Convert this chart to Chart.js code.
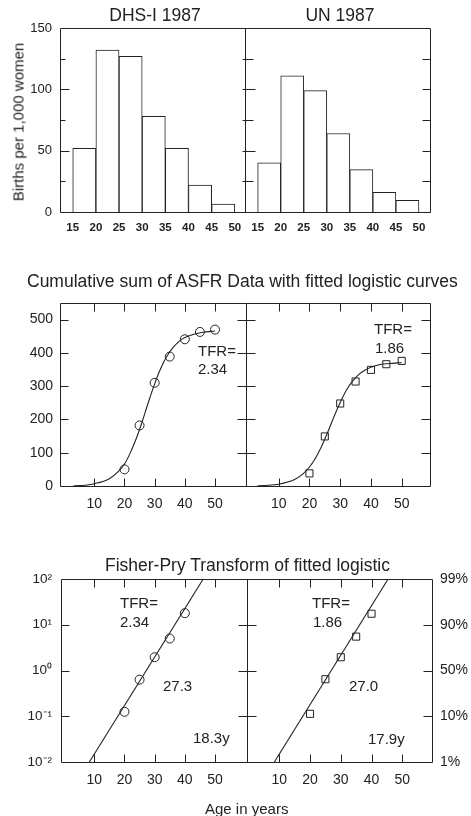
<!DOCTYPE html>
<html><head><meta charset="utf-8">
<script src="https://cdn.jsdelivr.net/npm/chart.js@4.4.0/dist/chart.umd.min.js"></script>
<style>
html,body{margin:0;padding:0;background:#fff}
body{width:471px;height:816px;position:relative;overflow:hidden;font-family:"Liberation Sans",Arial,sans-serif;color:#222}
canvas{position:absolute;left:0;top:0}
.t{position:absolute;white-space:nowrap;line-height:1;transform:translateY(-50%)}
.c{transform:translate(-50%,-50%)}
</style></head><body>
<canvas id="p1" width="471" height="816"></canvas>
<canvas id="p2" width="471" height="816"></canvas>
<canvas id="p3" width="471" height="816"></canvas>
<canvas id="p4" width="471" height="816"></canvas>
<canvas id="p5" width="471" height="816"></canvas>
<canvas id="p6" width="471" height="816"></canvas>

<div class="t c" style="left:155px;top:16px;font-size:17.5px">DHS-I 1987</div>
<div class="t c" style="left:340px;top:16px;font-size:17.5px">UN 1987</div>
<div class="t c" style="left:18px;top:122px;font-size:15px;transform:translate(-50%,-50%) rotate(-90deg)">Births per 1,000 women</div>

<div class="t" style="left:27px;top:282px;font-size:17.5px">Cumulative sum of ASFR Data with fitted logistic curves</div>
<div class="t" style="left:198px;top:350px;font-size:15px">TFR=</div>
<div class="t" style="left:198px;top:368px;font-size:15px">2.34</div>
<div class="t" style="left:374px;top:328px;font-size:15px">TFR=</div>
<div class="t" style="left:375px;top:347px;font-size:15px">1.86</div>

<div class="t" style="left:105px;top:566px;font-size:17.5px">Fisher-Pry Transform of fitted logistic</div>
<div class="t" style="left:120px;top:602px;font-size:15px">TFR=</div>
<div class="t" style="left:120px;top:621px;font-size:15px">2.34</div>
<div class="t" style="left:163px;top:685px;font-size:15px">27.3</div>
<div class="t" style="left:193px;top:737px;font-size:15px">18.3y</div>
<div class="t" style="left:312px;top:602px;font-size:15px">TFR=</div>
<div class="t" style="left:313px;top:621px;font-size:15px">1.86</div>
<div class="t" style="left:349px;top:685px;font-size:15px">27.0</div>
<div class="t" style="left:368px;top:738px;font-size:15px">17.9y</div>
<div class="t" style="left:205px;top:808px;font-size:15px">Age in years</div>

<script>
// ---------- data ----------
const ageGroupStarts = [15, 20, 25, 30, 35, 40, 45];
const dhsAsfr = [52, 132, 127, 78, 52, 22, 6.5];
const unAsfr  = [40, 111, 99, 64, 34.5, 16, 9.5];
const histXTicks = [15, 20, 25, 30, 35, 40, 45, 50];
const histYTicks = [0, 50, 100, 150];
const histMajorMarks = [50, 100];
const histMinorMarks = [25, 75, 125];

const cumAges = [20, 25, 30, 35, 40, 45, 50];
const dhsCum = [50, 182, 310, 389, 441, 463, 470];
const unCum  = [38, 149, 248, 314, 349, 366, 376];
const dhsCurveAges = [3, 5, 10, 15, 18, 20, 22, 24, 26, 28, 30, 32, 34, 36, 38, 40, 43, 46, 50];
const dhsCurve     = [0, 1, 7, 22, 44, 66, 101, 145, 197, 254, 307, 353, 389, 415, 434, 446, 456, 462, 466];
const unCurveAges  = [3, 5, 10, 15, 18, 20, 22, 24, 26, 28, 30, 32, 34, 36, 38, 40, 43, 46, 50];
const unCurve      = [0, 1.5, 5.5, 18.5, 37, 57, 84, 120, 163, 209, 251, 288, 315, 335, 348, 357, 365, 368, 371];
const cumXTicks = [10, 20, 30, 40, 50];
const cumYTicks = [0, 100, 200, 300, 400, 500];
const cumYMarks = [100, 200, 300, 400, 500];

const fpAges = [20, 25, 30, 35, 40];
const dhsFP = [0.125, 0.63, 1.95, 5.0, 17.9];
const unFP  = [0.113, 0.645, 1.95, 5.5, 17.4];
const dhsFPLineAges = [8.35, 46.1];
const dhsFPLine     = [0.01, 100];
const unFPLineAges  = [8.4, 45.4];
const unFPLine      = [0.01, 100];
const fpYTicks  = [0.01, 0.1, 1, 10, 100];
const fpYLabels = ['10\u207B\u00B2', '10\u207B\u00B9', '10\u2070', '10\u00B9', '10\u00B2'];
const fpPctLabels = ['1%', '10%', '50%', '90%', '99%'];
const fpYMarks = [0.1, 1, 10];

// ---------- helpers ----------
const INK = '#222';
const FONT = '"Liberation Sans", Arial, sans-serif';
Chart.defaults.font.family = FONT;
Chart.defaults.color = INK;

const pts = (xs, ys) => xs.map((x, i) => ({x, y: ys[i]}));
const marks = (vals, len) => vals.map(v => [v, len]);

const framePlugin = {
  id: 'frame',
  afterDatasetsDraw(chart, args, o) {
    const {ctx, chartArea: a, scales} = chart;
    const xs = scales.x, ys = scales.y;
    ctx.save();
    ctx.strokeStyle = INK; ctx.lineWidth = 1;
    const L = Math.round(a.left) + 0.5, R = Math.round(a.right) + 0.5;
    const T = Math.round(a.top) + 0.5, B = Math.round(a.bottom) + 0.5;
    const line = (x1, y1, x2, y2) => { ctx.beginPath(); ctx.moveTo(x1, y1); ctx.lineTo(x2, y2); ctx.stroke(); };
    line(L, T, R, T); line(R, T, R, B); line(R, B, L, B); line(L, B, L, T);
    (o.left || []).forEach(([v, len]) => { const y = Math.round(ys.getPixelForValue(v)) + 0.5; line(L, y, L + len, y); });
    (o.right || []).forEach(([v, len]) => { const y = Math.round(ys.getPixelForValue(v)) + 0.5; line(R, y, R - len, y); });
    (o.top || []).forEach(([v, len]) => { const x = Math.round(xs.getPixelForValue(v)) + 0.5; line(x, T, x, T + len); });
    (o.bottom || []).forEach(([v, len]) => { const x = Math.round(xs.getPixelForValue(v)) + 0.5; line(x, B, x, B - len); });
    ctx.restore();
  }
};

function panel(id, cfg) {
  const {L, T, R, B, wy = 0, hx = 0, wr = 0} = cfg.box;
  return new Chart(document.getElementById(id), {
    type: cfg.type,
    data: {datasets: cfg.datasets},
    options: {
      responsive: false, animation: false, devicePixelRatio: 1, events: [],
      layout: {padding: {left: L - wy, top: T, right: 471 - R - wr, bottom: 816 - B - hx}},
      plugins: {legend: {display: false}, tooltip: {enabled: false}, frame: cfg.frame},
      scales: cfg.scales(wy, hx, wr)
    },
    plugins: [framePlugin]
  });
}

function fixedTicks(vals) {
  return s => { s.ticks = vals.map(v => ({value: v})); };
}

// ---------- top: histograms ----------
function histScales(min, max, showY) {
  return (wy, hx) => ({
    x: {type: 'linear', min, max, offset: false,
        afterBuildTicks: fixedTicks(histXTicks),
        afterFit: s => { s.height = hx; },
        grid: {display: false, drawTicks: false}, border: {display: false},
        ticks: {padding: 9, maxRotation: 0, autoSkip: false, font: {size: 11.5, weight: 'bold'}}},
    y: {type: 'linear', min: 0, max: 150, display: showY,
        afterBuildTicks: fixedTicks(histYTicks),
        afterFit: s => { s.width = wy; },
        grid: {display: false, drawTicks: false}, border: {display: false},
        ticks: {padding: 8, font: {size: 13}}}
  });
}
const barStyle = {backgroundColor: '#fff', borderColor: INK, borderWidth: 1,
                  barPercentage: 1, categoryPercentage: 1, borderSkipped: 'start'};

panel('p1', {
  type: 'bar', box: {L: 60, T: 28, R: 245, B: 212, wy: 40, hx: 30},
  datasets: [Object.assign({data: pts(ageGroupStarts.map(a => a + 2.5), dhsAsfr)}, barStyle)],
  scales: histScales(12.25, 52.2, true),
  frame: {left: marks(histMajorMarks, 9).concat(marks(histMinorMarks, 5)),
          right: marks(histMajorMarks.concat(histMinorMarks), 3)}
});
panel('p2', {
  type: 'bar', box: {L: 245, T: 28, R: 430, B: 212, hx: 30},
  datasets: [Object.assign({data: pts(ageGroupStarts.map(a => a + 2.5), unAsfr)}, barStyle)],
  scales: histScales(12.25, 52.4, false),
  frame: {left: marks(histMajorMarks, 10).concat(marks(histMinorMarks, 8)),
          right: marks(histMajorMarks.concat(histMinorMarks), 8)}
});

// ---------- middle: cumulative + logistic ----------
function cumScales(min, max, showY) {
  return (wy, hx) => ({
    x: {type: 'linear', min, max,
        afterBuildTicks: fixedTicks(cumXTicks),
        afterFit: s => { s.height = hx; },
        grid: {display: false, drawTicks: false}, border: {display: false},
        ticks: {padding: 10, maxRotation: 0, autoSkip: false, font: {size: 14}}},
    y: {type: 'linear', min: 0, max: 550, display: showY,
        afterBuildTicks: fixedTicks(cumYTicks),
        afterFit: s => { s.width = wy; },
        grid: {display: false, drawTicks: false}, border: {display: false},
        ticks: {padding: 7, font: {size: 14}}}
  });
}
const curveStyle = {showLine: true, borderColor: INK, borderWidth: 1.1, pointRadius: 0,
                    cubicInterpolationMode: 'monotone', fill: false};
const circleStyle = {showLine: false, pointStyle: 'circle', pointRadius: 4.5,
                     pointBorderColor: INK, pointBackgroundColor: 'rgba(0,0,0,0)', pointBorderWidth: 1};
const squareStyle = {showLine: false, pointStyle: 'rect', pointRadius: 5,
                     pointBorderColor: INK, pointBackgroundColor: 'rgba(0,0,0,0)', pointBorderWidth: 1};

panel('p3', {
  type: 'scatter', box: {L: 60, T: 303, R: 246, B: 486, wy: 40, hx: 30},
  datasets: [Object.assign({data: pts(dhsCurveAges, dhsCurve)}, curveStyle),
             Object.assign({data: pts(cumAges, dhsCum)}, circleStyle)],
  scales: cumScales(-1.37, 60.27, true),
  frame: {left: marks(cumYMarks, 8), right: marks(cumYMarks, 9),
          top: marks(cumXTicks, 8), bottom: marks(cumXTicks, 8)}
});
panel('p4', {
  type: 'scatter', box: {L: 246, T: 303, R: 430, B: 486, hx: 30},
  datasets: [Object.assign({data: pts(unCurveAges, unCurve)}, curveStyle),
             Object.assign({data: pts(cumAges, unCum)}, squareStyle)],
  scales: cumScales(-0.63, 59.2, false),
  frame: {left: marks(cumYMarks, 9), right: marks(cumYMarks, 9),
          top: marks(cumXTicks, 8), bottom: marks(cumXTicks, 8)}
});

// ---------- bottom: Fisher-Pry ----------
function fpScales(min, max, showY, showRight) {
  return (wy, hx, wr) => {
    const sc = {
      x: {type: 'linear', min, max,
          afterBuildTicks: fixedTicks(cumXTicks),
          afterFit: s => { s.height = hx; },
          grid: {display: false, drawTicks: false}, border: {display: false},
          ticks: {padding: 10, maxRotation: 0, autoSkip: false, font: {size: 14}}},
      y: {type: 'logarithmic', min: 0.01, max: 100, display: showY,
          afterBuildTicks: fixedTicks(fpYTicks),
          afterFit: s => { s.width = wy; },
          grid: {display: false, drawTicks: false}, border: {display: false},
          ticks: {padding: 9, font: {size: 13.5},
                  callback: (v) => fpYLabels[fpYTicks.indexOf(v)] ?? ''}}
    };
    if (showRight) {
      sc.y2 = {type: 'logarithmic', position: 'right', min: 0.01, max: 100,
               afterBuildTicks: fixedTicks(fpYTicks),
               afterFit: s => { s.width = wr; },
               grid: {display: false, drawTicks: false}, border: {display: false},
               ticks: {padding: 8, font: {size: 14},
                       callback: (v) => fpPctLabels[fpYTicks.indexOf(v)] ?? ''}};
    }
    return sc;
  };
}
const fpLineStyle = {showLine: true, borderColor: INK, borderWidth: 1.1, pointRadius: 0, fill: false};

panel('p5', {
  type: 'scatter', box: {L: 61, T: 579, R: 247, B: 762, wy: 40, hx: 30},
  datasets: [Object.assign({data: pts(dhsFPLineAges, dhsFPLine)}, fpLineStyle),
             Object.assign({data: pts(fpAges, dhsFP)}, circleStyle)],
  scales: fpScales(-1.04, 60.6, true, false),
  frame: {left: marks(fpYMarks, 8), right: marks(fpYMarks, 9),
          top: marks(cumXTicks, 8), bottom: marks(cumXTicks, 8)}
});
panel('p6', {
  type: 'scatter', box: {L: 247, T: 579, R: 432, B: 762, hx: 30, wr: 39},
  datasets: [Object.assign({data: pts(unFPLineAges, unFPLine)}, fpLineStyle),
             Object.assign({data: pts(fpAges, unFP)}, squareStyle)],
  scales: fpScales(-0.5, 59.66, false, true),
  frame: {left: marks(fpYMarks, 9), right: marks(fpYMarks, 9),
          top: marks(cumXTicks, 8), bottom: marks(cumXTicks, 8)}
});
</script>
</body></html>
